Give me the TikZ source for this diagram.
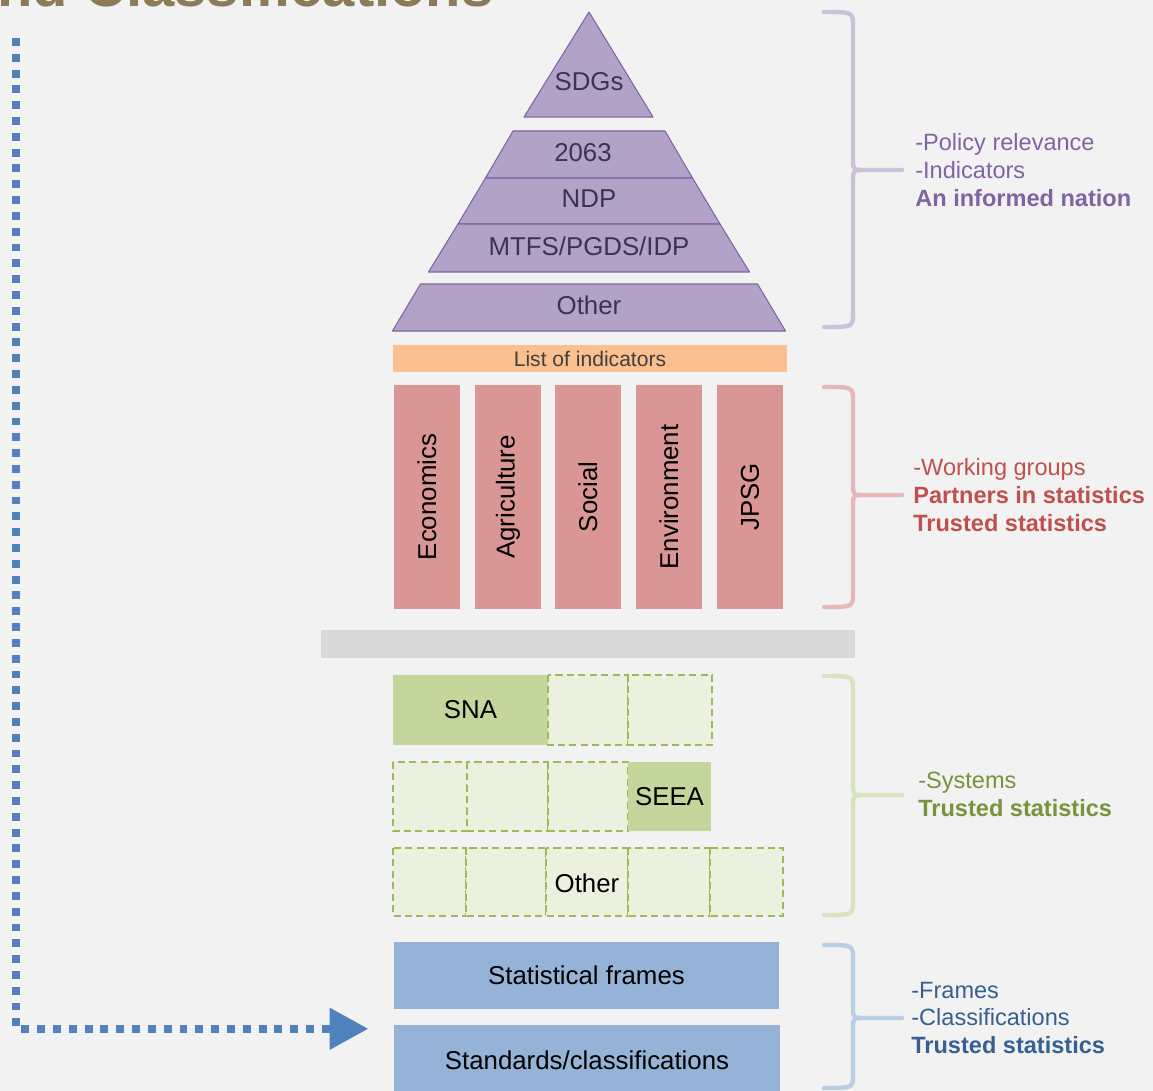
\documentclass[tikz,border=0pt]{standalone}
\usepackage{fontspec}
\setmainfont{Liberation Sans}
\usetikzlibrary{arrows.meta}

\definecolor{pagegray}{HTML}{F2F2F2}
\definecolor{titlebrown}{HTML}{8C7B57}
\definecolor{pyrfill}{HTML}{B3A2C7}
\definecolor{pyrline}{HTML}{8064A2}
\definecolor{pyrtext}{HTML}{3F3151}
\definecolor{listorange}{HTML}{FAC090}
\definecolor{listtext}{HTML}{404040}
\definecolor{pillarred}{HTML}{D99694}
\definecolor{bargray}{HTML}{D9D9D9}
\definecolor{syssolid}{HTML}{C3D69B}
\definecolor{syslight}{HTML}{EBF1DE}
\definecolor{sysdash}{HTML}{9BBB59}
\definecolor{frameblue}{HTML}{95B3D7}
\definecolor{linkblue}{HTML}{4F81BD}
\definecolor{bracepurple}{HTML}{CCC1DA}
\definecolor{bracered}{HTML}{E6B9B8}
\definecolor{bracegreen}{HTML}{D7E4BD}
\definecolor{braceblue}{HTML}{B9CDE5}
\definecolor{notepurple}{HTML}{8064A2}
\definecolor{notered}{HTML}{C0504D}
\definecolor{notegreen}{HTML}{77933C}
\definecolor{noteblue}{HTML}{376092}

\begin{document}
\begin{tikzpicture}[x=0.02cm,y=-0.02cm,
    tier/.style={fill=pyrfill,draw=pyrline,line width=0.6pt,line join=round},
    tiertext/.style={text=pyrtext,font=\fontsize{14.7}{17}\selectfont,inner sep=0pt},
    boxtext/.style={text=black,font=\fontsize{14.7}{17}\selectfont,inner sep=0pt},
    syscell/.style={fill=syslight,draw=sysdash,line width=1.1pt,dash pattern=on 4pt off 2.5pt},
    framebox/.style={fill=frameblue,minimum height=38pt,inner sep=0pt,font=\fontsize{14.7}{17}\selectfont},
    bracket/.style={line width=2.5pt,line cap=round},
    note/.style={anchor=west,align=left,inner sep=0pt,font=\fontsize{13.4}{15.9}\selectfont},
    link/.style={draw=linkblue,line width=4.5pt,dash pattern=on 4.5pt off 4.5pt,
                 -{Triangle[length=22pt,width=22.7pt]}}]

    \useasboundingbox (0,0) rectangle (1153,1091);
    \clip (0,0) rectangle (1153,1091);
    \fill[pagegray] (0,0) rectangle (1153,1091);

    % title, cut by the top edge
    \node[anchor=base east,inner sep=0pt,text=titlebrown,font=\bfseries\fontsize{33}{36}\selectfont] (title) at (494,7) {nd Classifications};

    % pyramid
    \draw[tier] (589,12) -- (653,117) -- (524,117) -- cycle;
    \node[tiertext] (sdgs) at (589,82) {SDGs};
    \foreach \ya/\yb/\wa/\wb/\tx/\txt/\n in {131/178/76/103.5/583/2063/agenda,
            178/224/103.5/131/589/NDP/ndp,
            224/272/131/160.5/589/{MTFS/PGDS/IDP}/mtfs,
            284/331/168.5/196.5/589/Other/other}{%
        \draw[tier] (589-\wa,\ya) -- (589+\wa,\ya) -- (589+\wb,\yb) -- (589-\wb,\yb) -- cycle;
        \node[tiertext] (\n) at (\tx,{(\ya+\yb)/2-2}) {\txt};
    }

    \fill[listorange] (393,345) rectangle (787,372)
        node[midway,text=listtext,font=\fontsize{12}{14}\selectfont,inner sep=0pt] (indicators) {List of indicators};

    % working groups
    \foreach \x/\txt/\n in {394/Economics/econ,475/Agriculture/agri,555/Social/social,636/Environment/envi,717/JPSG/jpsg}
        \fill[pillarred] (\x,385) rectangle ++(66,224) node[midway,rotate=90,boxtext] (\n) {\txt};

    \fill[bargray] (321,630) rectangle (855,658);

    % systems
    \fill[syssolid] (393,675) rectangle (548,745) node[midway,boxtext] (sna) {SNA};
    \foreach \a/\b in {548/628,628/712}
        \draw[syscell] (\a,675) rectangle (\b,745);
    \foreach \a/\b in {393/467,467/548,548/628}
        \draw[syscell] (\a,762) rectangle (\b,831);
    \fill[syssolid] (628,762) rectangle (711,831) node[midway,boxtext] (seea) {SEEA};
    \foreach \a/\b in {393/466,466/546,546/628,628/710,710/783}
        \draw[syscell] (\a,848) rectangle (\b,916);
    \node[boxtext] (othersys) at (587,883) {Other};

    % frames and classifications
    \node[framebox,minimum width=219.4pt] (frames) at (586.5,975.5) {Statistical frames};
    \node[framebox,minimum width=220pt,minimum height=39.7pt] (std) at (587,1060) {Standards/classifications};

    \coordinate (start) at (16,38);
    \coordinate (tip) at ([shift={(-25,4)}]std.north west);
    \draw[link] (start) |- (tip);

    % braces and notes
    \foreach \ya/\ym/\yb/\bc in {12/170/327/bracepurple,387/495/607/bracered,676/795/915/bracegreen,945/1018/1088/braceblue}
        \draw[bracket,draw=\bc] (824,\ya) .. controls (853,\ya) .. (853,\ya+14) -- (853,\ym-10)
            .. controls (853,\ym) .. (866,\ym) -- (902,\ym)
            (866,\ym) .. controls (853,\ym) .. (853,\ym+10) -- (853,\yb-14)
            .. controls (853,\yb) .. (824,\yb);

    \node[note,text=notepurple] (policy) at (915,170) {-Policy relevance\\-Indicators\\\textbf{An informed nation}};
    \node[note,text=notered] (groups) at (913,495) {-Working groups\\\textbf{Partners in statistics}\\\textbf{Trusted statistics}};
    \node[note,text=notegreen] (systems) at (918,794) {-Systems\\\textbf{Trusted statistics}};
    \node[note,text=noteblue] (classes) at (911,1018) {-Frames\\-Classifications\\\textbf{Trusted statistics}};

\end{tikzpicture}
\end{document}
